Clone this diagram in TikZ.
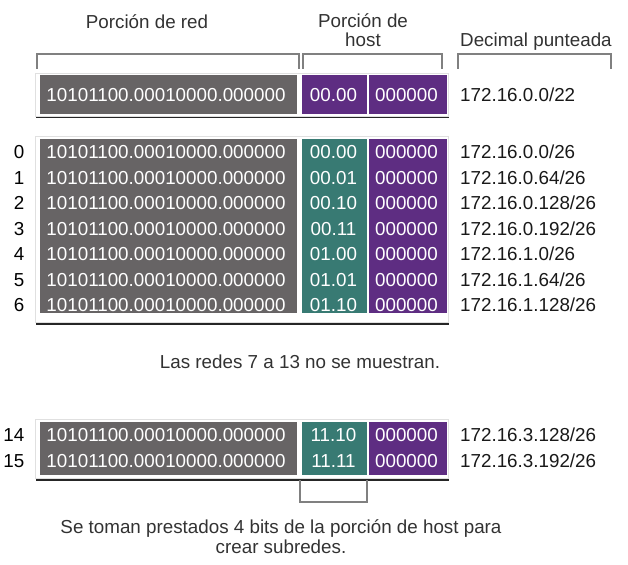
\documentclass[tikz,border=0pt]{standalone}
\usepackage{fontspec}
\setmainfont{Liberation Sans}
\usepackage{tikz}
\usetikzlibrary{positioning,shadows}

\definecolor{netgray}{RGB}{103,100,101}
\definecolor{subnetteal}{RGB}{56,122,115}
\definecolor{hostpurple}{RGB}{94,45,130}
\definecolor{bracketgray}{RGB}{128,128,128}
\definecolor{labelgray}{RGB}{50,50,50}

\begin{document}
\begin{tikzpicture}[x=1pt, y=-1pt, node distance=25.5pt]
		\tikzstyle{txt} = [font=\fontsize{18.8}{20}\selectfont, text height=13.5pt, text depth=0pt, inner sep=0pt]
		\tikzstyle{headtext} = [txt, text=labelgray]
		\tikzstyle{rownum} = [txt, anchor=east, text=black]
		\tikzstyle{bits} = [txt, text=white]
		\tikzstyle{decimal} = [txt, anchor=west, text width=160pt, align=left, text=black!90]
		\tikzstyle{panel} = [rectangle, inner sep=0pt, minimum width=413pt, fill=white, draw=black!12, line width=0.4pt,
		drop shadow={shadow xshift=1.2pt, shadow yshift=-2.5pt, opacity=0.85, fill=black}]
		\tikzstyle{netbox} = [rectangle, inner sep=0pt, minimum width=257pt, fill=netgray]
		\tikzstyle{subnetbox} = [rectangle, inner sep=0pt, minimum width=65pt, fill=subnetteal]
		\tikzstyle{hostbox} = [rectangle, inner sep=0pt, minimum width=78pt, fill=hostpurple]
		\tikzstyle{bracket} = [draw=bracketgray, line width=1.3pt]
		\useasboundingbox (0,0) rectangle (628,564);
		% headers
		\node (netLabel) [headtext] at (147,21.5) {Porción de red};
		\node (hostLabel) [font=\fontsize{18.8}{19}\selectfont, inner sep=0pt, align=center, anchor=south, text=labelgray] at (363,47) {Porción de\\host};
		\node (decLabel) [headtext, anchor=west] at (460,40) {Decimal punteada};
		\draw [bracket] (37,69) -- (37,54) -- (299,54) -- (299,69);
		\draw [bracket] (303,69) -- (303,54) -- (442,54) -- (442,69);
		\draw [bracket] (458,69) -- (458,54) -- (611,54) -- (611,69);
		% original network /22
		\node (topPanel) [panel, minimum height=43pt] at (241.5,94.5) {};
		\node (netTop) [netbox, minimum height=39pt] at (168.5,94.5) {};
		\node (hostTopA) [hostbox, minimum width=65pt, minimum height=39pt] at (334.5,94.5) {};
		\node (hostTopB) [hostbox, minimum height=39pt] at (408,94.5) {};
		\node (binTop) [bits] at (166,95) {10101100.00010000.000000};
		\node (subTop) [bits] at (333.5,95) {00.00};
		\node (hostBitsTop) [bits] at (406.5,95) {000000};
		\node (decTop) [decimal] at (460,95) {172.16.0.0/22};
		% subnets 0 to 6
		\node (firstPanel) [panel, minimum height=186pt] at (241.5,229) {};
		\node (netFirst) [netbox, minimum height=174pt] at (168.5,226) {};
		\node (subFirst) [subnetbox, minimum height=174pt] at (334.5,226) {};
		\node (hostFirst) [hostbox, minimum height=174pt] at (408,226) {};
		\node (num0) [rownum] at (24.5,152) {0};
		\node (num1) [rownum, below of=num0] {1};
		\node (num2) [rownum, below of=num1] {2};
		\node (num3) [rownum, below of=num2] {3};
		\node (num4) [rownum, below of=num3] {4};
		\node (num5) [rownum, below of=num4] {5};
		\node (num6) [rownum, below of=num5] {6};
		\node (bin0) [bits] at (166,152) {10101100.00010000.000000};
		\node (bin1) [bits, below of=bin0] {10101100.00010000.000000};
		\node (bin2) [bits, below of=bin1] {10101100.00010000.000000};
		\node (bin3) [bits, below of=bin2] {10101100.00010000.000000};
		\node (bin4) [bits, below of=bin3] {10101100.00010000.000000};
		\node (bin5) [bits, below of=bin4] {10101100.00010000.000000};
		\node (bin6) [bits, below of=bin5] {10101100.00010000.000000};
		\node (sub0) [bits] at (333.5,152) {00.00};
		\node (sub1) [bits, below of=sub0] {00.01};
		\node (sub2) [bits, below of=sub1] {00.10};
		\node (sub3) [bits, below of=sub2] {00.11};
		\node (sub4) [bits, below of=sub3] {01.00};
		\node (sub5) [bits, below of=sub4] {01.01};
		\node (sub6) [bits, below of=sub5] {01.10};
		\node (hostBits0) [bits] at (406.5,152) {000000};
		\node (hostBits1) [bits, below of=hostBits0] {000000};
		\node (hostBits2) [bits, below of=hostBits1] {000000};
		\node (hostBits3) [bits, below of=hostBits2] {000000};
		\node (hostBits4) [bits, below of=hostBits3] {000000};
		\node (hostBits5) [bits, below of=hostBits4] {000000};
		\node (hostBits6) [bits, below of=hostBits5] {000000};
		\node (dec0) [decimal] at (460,152) {172.16.0.0/26};
		\node (dec1) [decimal, below of=dec0] {172.16.0.64/26};
		\node (dec2) [decimal, below of=dec1] {172.16.0.128/26};
		\node (dec3) [decimal, below of=dec2] {172.16.0.192/26};
		\node (dec4) [decimal, below of=dec3] {172.16.1.0/26};
		\node (dec5) [decimal, below of=dec4] {172.16.1.64/26};
		\node (dec6) [decimal, below of=dec5] {172.16.1.128/26};
		\node (skipped) [headtext] at (300,362) {Las redes 7 a 13 no se muestran.};
		% subnets 14 and 15
		\node (lastPanel) [panel, minimum height=59pt] at (241.5,448.5) {};
		\node (netLast) [netbox, minimum height=53pt] at (168.5,448.5) {};
		\node (subLast) [subnetbox, minimum height=53pt] at (334.5,448.5) {};
		\node (hostLast) [hostbox, minimum height=53pt] at (408,448.5) {};
		\node (num14) [rownum] at (24.5,435) {14};
		\node (num15) [rownum, below of=num14] {15};
		\node (bin14) [bits] at (166,435) {10101100.00010000.000000};
		\node (bin15) [bits, below of=bin14] {10101100.00010000.000000};
		\node (sub14) [bits] at (333.5,435) {11.10};
		\node (sub15) [bits, below of=sub14] {11.11};
		\node (hostBits14) [bits] at (406.5,435) {000000};
		\node (hostBits15) [bits, below of=hostBits14] {000000};
		\node (dec14) [decimal] at (460,435) {172.16.3.128/26};
		\node (dec15) [decimal, below of=dec14] {172.16.3.192/26};
		\draw [bracket] (300,480) -- (300,502) -- (367,502) -- (367,480);
		\node (borrowNote) [font=\fontsize{18.8}{20}\selectfont, inner sep=0pt, align=center, anchor=south, text=labelgray] at (281,553.7) {Se toman prestados 4 bits de la porción de host para\\crear subredes.};
\end{tikzpicture}
\end{document}
